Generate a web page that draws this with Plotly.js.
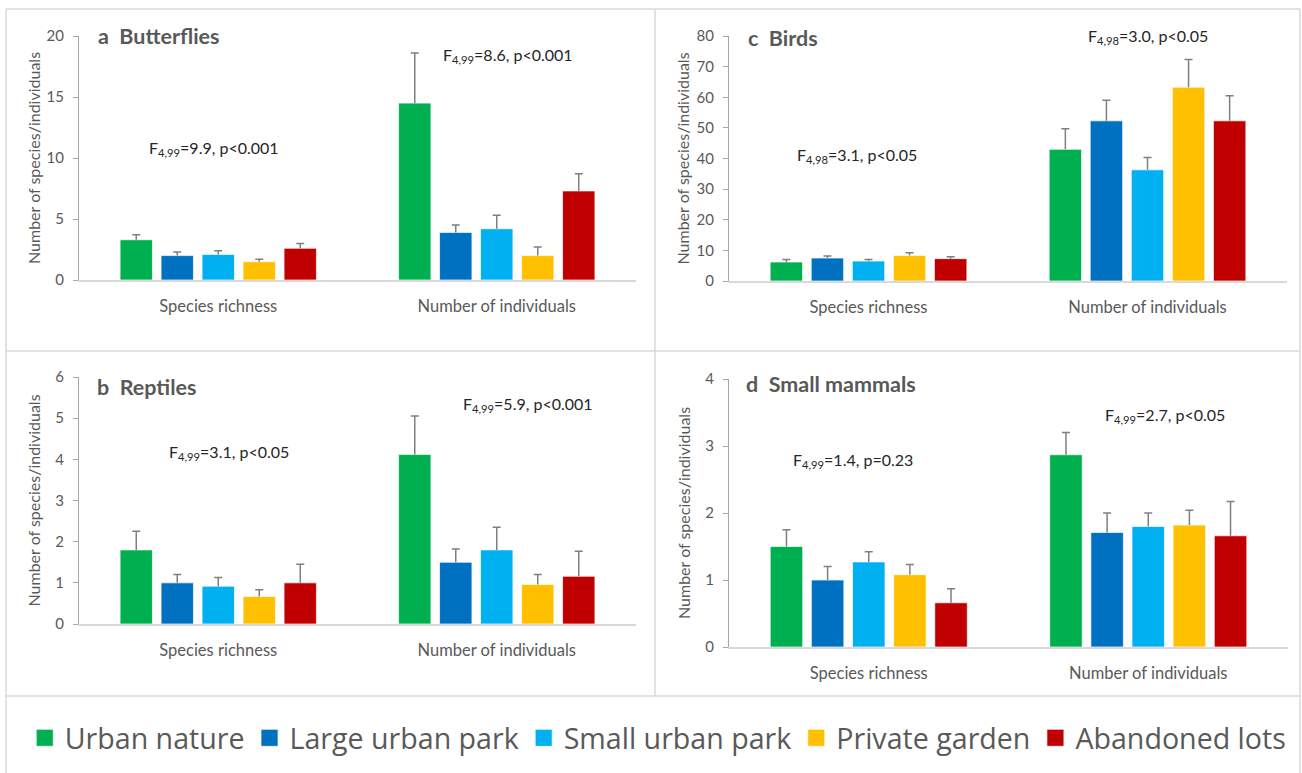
<!DOCTYPE html>
<html>
<head>
<meta charset="utf-8">
<script src="https://cdn.plot.ly/plotly-3.0.1.min.js"></script>
<style>html,body{margin:0;padding:0;background:#fff;}#chart{width:1302px;height:773px;}</style>
</head>
<body>
<div id="chart"></div>
<script>
// ---- data ----
const groups = ['Species richness', 'Number of individuals'];
const sites = ['Urban nature', 'Large urban park', 'Small urban park', 'Private garden', 'Abandoned lots'];
const siteColors = ['#00b050', '#0070c0', '#00b0f0', '#ffc000', '#c00000'];

// a Butterflies
const butterflySR = [3.3, 2.0, 2.1, 1.5, 2.6];
const butterflySRerr = [0.4, 0.3, 0.3, 0.2, 0.4];
const butterflyNI = [14.5, 3.9, 4.2, 2.0, 7.3];
const butterflyNIerr = [4.1, 0.6, 1.1, 0.7, 1.4];

// b Reptiles
const reptileSR = [1.8, 1.0, 0.92, 0.67, 1.0];
const reptileSRerr = [0.45, 0.2, 0.21, 0.16, 0.45];
const reptileNI = [4.12, 1.5, 1.8, 0.96, 1.16];
const reptileNIerr = [0.93, 0.32, 0.55, 0.24, 0.61];

// c Birds
const birdSR = [6.2, 7.5, 6.5, 8.3, 7.3];
const birdSRerr = [0.8, 0.7, 0.5, 0.9, 0.6];
const birdNI = [43, 52.3, 36.3, 63.3, 52.3];
const birdNIerr = [6.7, 6.7, 4.0, 9.0, 8.2];

// d Small mammals
const mammalSR = [1.5, 1.0, 1.27, 1.08, 0.66];
const mammalSRerr = [0.25, 0.2, 0.15, 0.15, 0.21];
const mammalNI = [2.87, 1.71, 1.8, 1.82, 1.66];
const mammalNIerr = [0.33, 0.29, 0.2, 0.22, 0.51];

const panelTitles = ['a  Butterflies', 'b  Reptiles', 'c  Birds', 'd  Small mammals'];
const statsSR = ['F<sub>4,99</sub>=9.9, p&lt;0.001', 'F<sub>4,99</sub>=3.1, p&lt;0.05', 'F<sub>4,98</sub>=3.1, p&lt;0.05', 'F<sub>4,99</sub>=1.4, p=0.23'];
const statsNI = ['F<sub>4,99</sub>=8.6, p&lt;0.001', 'F<sub>4,99</sub>=5.9, p&lt;0.001', 'F<sub>4,98</sub>=3.0, p&lt;0.05', 'F<sub>4,99</sub>=2.7, p&lt;0.05'];
const yTitle = 'Number of species/individuals';
const yMax = [20, 6, 80, 4];
const yStep = [5, 1, 10, 1];

// ---- build ----
const W = 1302, H = 773;
const px = v => v / W;
const py = v => 1 - v / H;
const FONT = 'Lato, "Open Sans", sans-serif';
const GRAY = '#595959';

const panels = [
  {sr: butterflySR, srE: butterflySRerr, ni: butterflyNI, niE: butterflyNIerr, dom: [79, 636, 36, 280]},
  {sr: reptileSR, srE: reptileSRerr, ni: reptileNI, niE: reptileNIerr, dom: [79, 636, 377, 624]},
  {sr: birdSR, srE: birdSRerr, ni: birdNI, niE: birdNIerr, dom: [729, 1287, 36, 281]},
  {sr: mammalSR, srE: mammalSRerr, ni: mammalNI, niE: mammalNIerr, dom: [729, 1288, 379, 647]}
];
// annotation positions (left edge in px, y in data units)
const srPos = [[147, 10.8], [167, 4.17], [795, 41.1], [791, 2.79]];
const niPos = [[441, 18.4], [461, 5.32], [1086, 79.7], [1103, 3.46]];
const titlePos = [[96, 36], [95, 387], [746, 38], [744, 384]];
const yTitleX = [33, 33, 682, 683];

const traces = [];
const layout = {
  width: W, height: H,
  margin: {l: 0, r: 0, t: 0, b: 0},
  paper_bgcolor: '#ffffff', plot_bgcolor: 'rgba(0,0,0,0)',
  barmode: 'group', bargap: 0.264, bargroupgap: 0.21,
  font: {family: FONT, color: GRAY},
  showlegend: true,
  legend: {orientation: 'h', x: 0.019, xanchor: 'left', y: 0.045, yanchor: 'middle',
           font: {size: 28.6, color: GRAY, family: '"Open Sans", sans-serif'}, itemclick: false, tracegroupgap: 0},
  annotations: [], shapes: []
};

panels.forEach((p, k) => {
  const n = k + 1;
  const xa = n === 1 ? 'x' : 'x' + n;
  const ya = n === 1 ? 'y' : 'y' + n;
  sites.forEach((s, i) => {
    traces.push({
      type: 'bar', name: s, x: groups, y: [p.sr[i], p.ni[i]],
      xaxis: xa, yaxis: ya, legendgroup: s, showlegend: k === 0,
      marker: {color: siteColors[i], line: {color: 'rgba(255,255,255,0.7)', width: 1}},
      error_y: {type: 'data', symmetric: false, array: [p.srE[i], p.niE[i]], arrayminus: [0, 0],
                color: '#7f7f7f', thickness: 1.5, width: 4},
      hoverinfo: 'y+name'
    });
  });
  const d = p.dom;
  layout['xaxis' + (n === 1 ? '' : n)] = {
    domain: [px(d[0]), px(d[1])], anchor: ya, type: 'category',
    showline: true, linecolor: '#d9d9d9', linewidth: 1.5, ticks: '', showgrid: false, zeroline: false,
    tickfont: {size: 16.5, color: GRAY, family: FONT}, ticklabelstandoff: 10, fixedrange: true
  };
  layout['yaxis' + (n === 1 ? '' : n)] = {
    domain: [py(d[3]), py(d[2])], anchor: xa, range: [0, yMax[k]], dtick: yStep[k], tick0: 0,
    showline: true, linecolor: '#a6a6a6', linewidth: 1, ticks: 'outside', ticklen: 5, tickcolor: '#a6a6a6',
    showgrid: false, zeroline: false, tickfont: {size: 15, color: GRAY, family: FONT},
    ticklabelstandoff: 6, fixedrange: true
  };
  layout.annotations.push({
    xref: 'paper', yref: 'paper', x: px(yTitleX[k]), y: py((d[2] + d[3]) / 2), xanchor: 'center', yanchor: 'middle',
    text: yTitle, textangle: -90, showarrow: false, font: {size: 16, color: GRAY, family: FONT}
  });
  layout.annotations.push({
    xref: 'paper', yref: ya, x: px(srPos[k][0]), y: srPos[k][1], xanchor: 'left', yanchor: 'middle',
    text: statsSR[k], showarrow: false, font: {size: 16, color: '#262626', family: FONT}
  });
  layout.annotations.push({
    xref: 'paper', yref: ya, x: px(niPos[k][0]), y: niPos[k][1], xanchor: 'left', yanchor: 'middle',
    text: statsNI[k], showarrow: false, font: {size: 16, color: '#262626', family: FONT}
  });
  layout.annotations.push({
    xref: 'paper', yref: 'paper', x: px(titlePos[k][0]), y: py(titlePos[k][1]), xanchor: 'left', yanchor: 'middle',
    text: '<b>' + panelTitles[k] + '</b>', showarrow: false, font: {size: 21.5, color: GRAY, family: FONT}
  });
});

// frame lines
const lineStyle = {color: '#d9d9d9', width: 1.5};
const frame = [
  [6, 9, 1300, 9], [6, 9, 6, 773], [1300, 9, 1300, 773],
  [6, 351, 1300, 351], [655, 9, 655, 696], [6, 696, 1300, 696]
];
frame.forEach(f => layout.shapes.push({type: 'line', xref: 'paper', yref: 'paper',
  x0: px(f[0]), y0: py(f[1]), x1: px(f[2]), y1: py(f[3]), line: lineStyle, layer: 'below'}));

Plotly.newPlot('chart', traces, layout, {displayModeBar: false}).then(gd => {
  // enlarge the legend swatches to match the reference's 17px squares
  gd.querySelectorAll('.legend .legendpoints path').forEach(p => {
    p.setAttribute('d', 'M8.5,8.5H-8.5V-8.5H8.5Z');
  });
  // one-sided error bars: drop the lower cap that sits on the bar top
  gd.querySelectorAll('.errorbar path.yerror').forEach(p => {
    const dd = p.getAttribute('d') || '';
    p.setAttribute('d', dd.replace(/m-[\d.]+,0h[\d.]+\s*$/, ''));
  });
});
</script>
</body>
</html>
